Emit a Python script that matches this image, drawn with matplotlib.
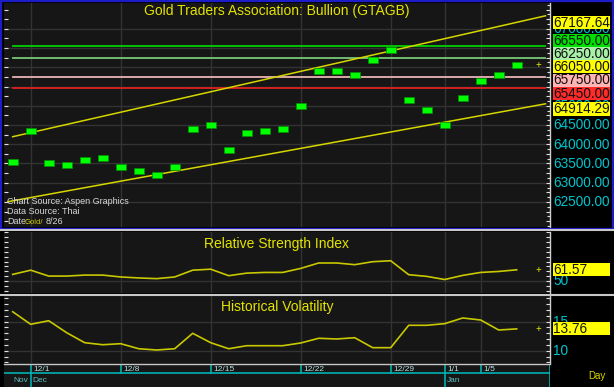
import matplotlib
matplotlib.use("Agg")
import matplotlib.pyplot as plt
from matplotlib.lines import Line2D
from matplotlib.patches import Rectangle
from matplotlib.ticker import MultipleLocator
import numpy as np

plt.rcParams['font.family'] = ['Liberation Sans', 'DejaVu Sans']

# ---------------- data ----------------
dates = ['11/28', '12/1', '12/2', '12/3', '12/4', '12/5', '12/8', '12/9', '12/10', '12/11',
         '12/12', '12/15', '12/16', '12/17', '12/18', '12/19', '12/22', '12/23', '12/24',
         '12/25', '12/26', '12/29', '12/30', '12/31', '1/1', '1/2', '1/5', '1/6', '1/7']
price = [63550, 64350, 63500, 63450, 63600, 63650, 63400, 63300, 63200, 63400,
         64400, 64500, 63850, 64300, 64350, 64400, 65000, 65900, 65900, 65800,
         66200, 66450, 65150, 64900, 64500, 65200, 65650, 65800, 66050]
rsi = [56.9, 61.2, 55.2, 55.2, 56.2, 56.2, 54.3, 53.3, 52.6, 54.3,
       61.2, 62.2, 55.6, 58.2, 58.9, 58.9, 63.0, 68.5, 68.5, 66.8,
       69.8, 70.8, 56.6, 54.9, 51.7, 55.9, 58.9, 59.9, 61.57]
hv = [16.72, 14.55, 15.17, 13.10, 11.38, 11.03, 11.21, 10.34, 10.12, 10.34,
      13.00, 11.38, 10.34, 10.86, 10.86, 10.86, 11.33, 12.14, 12.02, 12.24,
      10.52, 10.52, 14.38, 14.38, 14.66, 15.64, 15.29, 13.57, 13.76]

level_values = [66550.00, 66250.00, 65750.00, 65450.00]
level_colors = ['#00d000', '#78c878', '#e8b4b4', '#e02020']
level_box_colors = ['#00e000', '#a8f0a8', '#ffb4b4', '#ff2a2a']

upper_trend = [64196.0, 67167.64]   # values at first and last bar
lower_trend = [62530.0, 64914.29]   # values at first and last bar

price_ticks = [62500, 63000, 63500, 64000, 64500, 65000, 65500, 66000, 66500, 67000]
price_tick_labels = [62500, 63000, 63500, 64000, 64500, 65000, 67000]
rsi_ticks = [50]
hv_ticks = [10, 15]
date_ticks = ['12/1', '12/8', '12/15', '12/22', '12/29', '1/1', '1/5']
months = [('Nov', None), ('Dec', '12/1'), ('Jan', '1/1')]

title_main = 'Gold Traders Association: Bullion (GTAGB)'
title_rsi = 'Relative Strength Index'
title_hv = 'Historical Volatility'

# ---------------- layout ----------------
W, H = 614, 387
fig = plt.figure(figsize=(W / 100, H / 100), dpi=100, facecolor='#000000')

def px_axes(x0, y0, x1, y1):
    return fig.add_axes([x0 / W, 1 - y1 / H, (x1 - x0) / W, (y1 - y0) / H])

def ftext(x, y, s, **kw):
    return fig.text(x / W, 1 - y / H, s, **kw)

BG = '#161616'
GRID = '#333333'
YEL = '#e4e400'
TLINE = '#d6d600'
CYAN = '#00c4cc'
x = np.arange(len(dates))
XL = (-0.483, 29.85)
vpos = [dates.index(d) for d in date_ticks]

def style(ax, ylim, major, minor_right=None):
    ax.set_facecolor(BG)
    ax.set_xlim(*XL)
    ax.set_ylim(*ylim)
    for s in ['top', 'bottom', 'left']:
        ax.spines[s].set_visible(False)
    ax.spines['right'].set_color('#d0d0d0')
    ax.spines['right'].set_linewidth(1.0)
    ax.set_xticks([])
    ax.yaxis.set_major_locator(MultipleLocator(major))
    ax.tick_params(axis='y', which='both', left=True, right=True, direction='in',
                   colors='#e0e0e0', length=3, width=0.8, labelleft=False, labelright=False)
    if minor_right:
        ax.yaxis.set_minor_locator(MultipleLocator(minor_right))
        ax.tick_params(axis='y', which='minor', left=False, right=True, length=2)
    for v in vpos:
        ax.axvline(v, color=GRID, lw=1, zorder=0)

def right_label(ax, value, y_px=None, text=None, box=None, color='#101010'):
    if y_px is None:
        y_px = H - ax.transData.transform((0, value))[1]
    s = text if text is not None else f'{value:.2f}'
    z = 8
    if box:
        fig.add_artist(Rectangle((552.5 / W, 1 - (y_px + 6.6) / H), 57.5 / W, 13.2 / H,
                                 transform=fig.transFigure, fc=box, ec='none', zorder=9))
        z = 10
    ftext(553.5, y_px + 0.3, s, fontsize=9.8, va='center', ha='left', color=color, zorder=z)

# ---------------- main panel ----------------
ax = px_axes(4, 3, 550, 227)
style(ax, (61850, 67670), 250, minor_right=125)
for t in price_ticks:
    ax.axhline(t, color=GRID, lw=1, zorder=0)

xe = np.array([0, 29.6])
n = len(dates) - 1
for vals, x0 in [(upper_trend, 0.0), (lower_trend, -0.26)]:
    slope = (vals[1] - vals[0]) / n
    xs = np.array([x0, 29.6])
    ax.plot(xs, vals[0] + slope * xs, color=TLINE, lw=1.1, zorder=3)
for v, c in zip(level_values, level_colors):
    ax.plot(xe, [v, v], color=c, lw=1.3, zorder=2)

rect = [(-1, -0.5), (1, -0.5), (1, 0.5), (-1, 0.5), (-1, -0.5)]
ax.plot(x, price, linestyle='none', marker=rect, markersize=7.4,
        markerfacecolor='#00ff00', markeredgecolor='#009000', markeredgewidth=0.5, zorder=4)
ax.text(29.2, price[-1], '+', color=YEL, fontsize=7, va='center', ha='center', zorder=5)

ax.text(0.5, 0.965, title_main, transform=ax.transAxes, ha='center', va='center',
        color=YEL, fontsize=10)
ftext(7, 202, 'Chart Source: Aspen Graphics', fontsize=6.5, color='#d8d8d8', va='center')
ftext(7, 212, 'Data Source: Thai', fontsize=6.5, color='#d8d8d8', va='center')
ftext(7, 222, 'Date:', fontsize=6.5, color='#d8d8d8', va='center')
ftext(25, 222, 'Gold/', fontsize=5.5, color='#c8c800', va='center')
ftext(46, 222, '8/26', fontsize=6.5, color='#d8d8d8', va='center')

# right axis labels for main panel
fig.canvas.draw()
for t in price_tick_labels:
    right_label(ax, t, color=CYAN)
items = [(upper_trend[1], '#ffff00')] + list(zip(level_values, level_box_colors)) + \
        [(price[-1], '#ffff00'), (lower_trend[1], '#ffff00')]
items.sort(key=lambda it: -it[0])
ys = [H - ax.transData.transform((0, v))[1] for v, _ in items]
gap = 13.3
for _ in range(300):
    for k in range(len(ys) - 1):
        d = ys[k + 1] - ys[k]
        if d < gap:
            sh = (gap - d) / 2
            ys[k] -= sh
            ys[k + 1] += sh
for (v, c), yy in zip(items, ys):
    right_label(ax, v, y_px=yy, box=c)

# ---------------- RSI panel ----------------
ax2 = px_axes(4, 232, 550, 293)
style(ax2, (38, 100), 5)
for t in rsi_ticks:
    ax2.axhline(t, color=GRID, lw=1, zorder=0)
ax2.plot(x, rsi, color='#c8c800', lw=1.2, zorder=3)
ax2.text(0.5, 0.8, title_rsi, transform=ax2.transAxes, ha='center', va='center',
         color=YEL, fontsize=10)
ax2.text(29.2, rsi[-1], '+', color=YEL, fontsize=7, va='center', ha='center')
fig.canvas.draw()
for t in rsi_ticks:
    right_label(ax2, t, text=f'{t}', color=CYAN)
right_label(ax2, rsi[-1], box='#ffff00')

# ---------------- HV panel ----------------
ax3 = px_axes(4, 296, 550, 363)
style(ax3, (7.88, 19.43), 1)
for t in hv_ticks:
    ax3.axhline(t, color=GRID, lw=1, zorder=0)
ax3.plot(x, hv, color='#c8c800', lw=1.2, zorder=3)
ax3.text(0.5, 0.84, title_hv, transform=ax3.transAxes, ha='center', va='center',
         color=YEL, fontsize=10)
ax3.text(29.2, hv[-1], '+', color=YEL, fontsize=7, va='center', ha='center')
fig.canvas.draw()
for t in hv_ticks:
    right_label(ax3, t, text=f'{t}', color=CYAN)
right_label(ax3, hv[-1], box='#ffff00')

# ---------------- date axis ----------------
ax4 = px_axes(4, 363, 550, 387)
ax4.set_xlim(*XL)
ax4.set_ylim(0, 24)
ax4.axis('off')
ax4.add_patch(Rectangle((XL[0], 0), XL[1] - XL[0], 24, fc=BG, ec='none', zorder=0))
ax4.axhline(14, color='#00b0b0', lw=1.2)
for d in date_ticks:
    i = dates.index(d)
    ax4.plot([i, i], [14, 22], color='#00b0b0', lw=1.2)
    ax4.text(i + 0.12, 17.5, d, fontsize=6, color='#b8e0e0', va='center', ha='left')
for m, d in months:
    if d is None:
        ax4.text(XL[0] + 0.5, 6.5, m, fontsize=6, color='#60c0c0', va='center', ha='left')
    else:
        i = dates.index(d)
        ax4.plot([i, i], [0, 14], color='#00b0b0', lw=1.2)
        ax4.text(i + 0.12, 6.5, m, fontsize=6, color='#60c0c0', va='center', ha='left')
ax4.plot([XL[1] - 0.02] * 2, [0, 22], color='#00b0b0', lw=1.2)
ftext(588, 376, 'Day', fontsize=7, color='#d8d800', va='center', ha='left')

# ---------------- frames / separators ----------------
fig.add_artist(Line2D([0, 1], [1 - 230 / H] * 2, color='#c8c8c8', lw=1.5))
fig.add_artist(Line2D([0, 1], [1 - 294.5 / H] * 2, color='#c8c8c8', lw=1.5))
fig.add_artist(Line2D([4 / W, 550 / W], [1 - 363.5 / H] * 2, color='#c8c8c8', lw=1.0))
fig.add_artist(Rectangle((1 / W, 1 - 228.5 / H), 612 / W, 227.5 / H, transform=fig.transFigure,
                         fill=False, ec='#1c1cc8', lw=1.6))

fig.savefig('out.png', dpi=100, facecolor='#000000')
